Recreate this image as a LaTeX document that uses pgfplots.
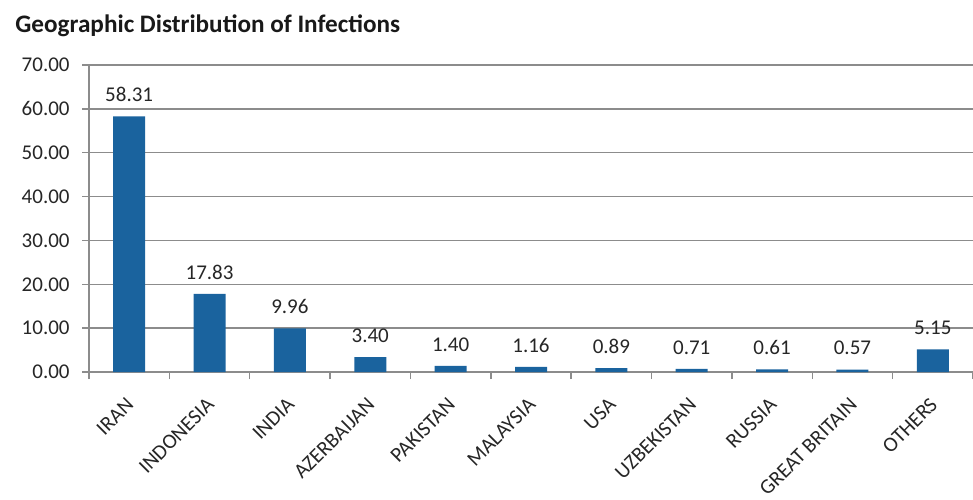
\documentclass[border=0pt]{standalone}
\usepackage{pgfplots}
\pgfplotsset{compat=1.18}
\usepackage{fontspec}
\setmainfont{Carlito}
\definecolor{barblue}{RGB}{26,99,158}
\definecolor{gridgray}{RGB}{140,140,140}
\begin{document}
\begin{tikzpicture}
\useasboundingbox (-44.5pt,-63.5pt) rectangle (442pt,186pt);
\begin{axis}[
  at={(0,0)}, anchor=south west,
  scale only axis, width=442pt, height=153.5pt,
  xmin=-0.5, xmax=10.5, ymin=0, ymax=70,
  ybar, bar width=16pt,
  axis x line*=bottom, axis y line*=left,
  axis line style={gridgray, line width=0.7pt, -},
  tick style={gridgray, line width=0.7pt},
  tick align=outside, major tick length=3.5pt,
  ytick={0,10,...,70},
  ymajorgrids, grid style={gridgray, line width=0.7pt},
  yticklabel style={font=\fontsize{10.5}{12}\selectfont, text=black!85, inner sep=0pt, xshift=-6pt,
    /pgf/number format/.cd, fixed, fixed zerofill, precision=2, assume math mode=true},
  scaled y ticks=false,
  xtick={-0.5,0.5,...,10.5}, xticklabels={},
  extra x ticks={0,...,10},
  extra x tick labels={IRAN,INDONESIA,INDIA,AZERBAIJAN,PAKISTAN,MALAYSIA,USA,UZBEKISTAN,RUSSIA,GREAT BRITAIN,OTHERS},
  extra x tick style={major tick length=0pt, grid=none,
    xticklabel style={xshift=-2pt, yshift=-12pt, rotate=45, anchor=north east, inner sep=0pt,
      font=\fontsize{10.5}{12}\selectfont, text=black!85}},
  nodes near coords={\pgfmathprintnumber[fixed,fixed zerofill,precision=2,assume math mode=true]{\pgfplotspointmeta}},
  nodes near coords style={font=\fontsize{10.5}{12}\selectfont, text=black!85, anchor=south, inner sep=0pt, yshift=7pt},
  clip=false,
]
\addplot[fill=barblue, draw=none] coordinates {
  (0,58.31) (1,17.83) (2,9.96) (3,3.40) (4,1.40) (5,1.16)
  (6,0.89) (7,0.71) (8,0.61) (9,0.57) (10,5.15)
};
\end{axis}
\node[anchor=base west, inner sep=0pt, font=\bfseries\fontsize{12.6}{14}\selectfont, text=black!90] at (-37pt,169.5pt) {Geographic Distribution of Infections};
\end{tikzpicture}
\end{document}
